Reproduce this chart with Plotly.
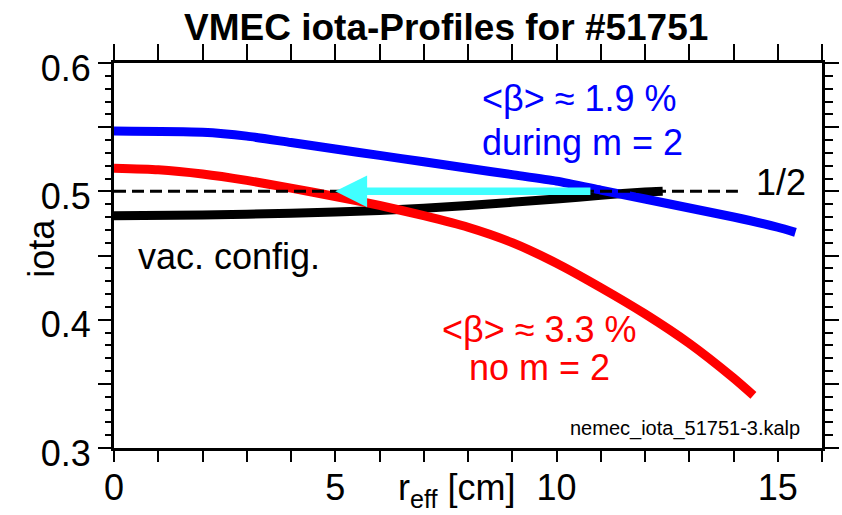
import plotly.graph_objects as go

# ---- data ----
r_vac = [0, 2, 4, 6, 8, 10, 11, 12, 12.4]
iota_vac = [0.481, 0.4815, 0.483, 0.485, 0.489, 0.494, 0.497, 0.4995, 0.500]

r_b19 = [0, 2, 3, 4, 5, 6, 7, 8, 9, 10, 11, 12, 13, 14, 15, 15.4]
iota_b19 = [0.547, 0.546, 0.543, 0.538, 0.533, 0.528, 0.523, 0.518, 0.513,
            0.508, 0.501, 0.494, 0.487, 0.480, 0.472, 0.468]

r_b33 = [0, 1, 2, 3, 4, 5, 6, 7, 8, 9, 10, 11, 12, 13, 14, 14.45]
iota_b33 = [0.518, 0.5168, 0.5135, 0.5085, 0.5025, 0.496, 0.489, 0.481, 0.472,
            0.460, 0.444, 0.425, 0.4045, 0.3815, 0.3545, 0.341]

r_half = [0, 14.1]
iota_half = [0.5, 0.5]

arrow_tail_r = 10.8
arrow_tip_r = 5.0
arrow_iota = 0.5

x_tick_vals = list(range(0, 17))
x_tick_text = [str(v) if v % 5 == 0 else "" for v in x_tick_vals]
y_tick_vals = [0.30, 0.35, 0.40, 0.45, 0.50, 0.55, 0.60]
y_tick_text = ["0.3", "", "0.4", "", "0.5", "", "0.6"]

FONT = "Liberation Sans, Arial, Helvetica, sans-serif"
BLUE = "#0000FF"
RED = "#FF0000"
CYAN = "#40FFFF"

fig = go.Figure()
fig.add_trace(go.Scatter(x=r_vac, y=iota_vac, mode="lines",
                         line=dict(color="black", width=9, shape="spline", smoothing=0.5),
                         showlegend=False))
fig.add_trace(go.Scatter(x=r_b19, y=iota_b19, mode="lines",
                         line=dict(color=BLUE, width=9, shape="spline", smoothing=0.6),
                         showlegend=False))
fig.add_trace(go.Scatter(x=r_b33, y=iota_b33, mode="lines",
                         line=dict(color=RED, width=9, shape="spline", smoothing=0.6),
                         showlegend=False))
fig.add_trace(go.Scatter(x=r_half, y=iota_half, mode="lines",
                         line=dict(color="black", width=3, dash="12px,6px"),
                         showlegend=False))
fig.add_trace(go.Scatter(x=[], y=[], xaxis="x2", yaxis="y2", showlegend=False))

ann = []
ann.append(dict(x=arrow_tip_r, y=arrow_iota, ax=arrow_tail_r, ay=arrow_iota,
                xref="x", yref="y", axref="x", ayref="y", text="",
                showarrow=True, arrowhead=2, arrowsize=0.85, arrowwidth=7.5,
                arrowcolor=CYAN, standoff=0, startstandoff=0))

def txt(x, y, s, color="black", size=36, xref="x", yref="y", **kw):
    d = dict(x=x, y=y, xref=xref, yref=yref, text=s, showarrow=False,
             font=dict(family=FONT, size=size, color=color),
             xanchor="center", yanchor="middle")
    d.update(kw)
    ann.append(d)

txt(10.52, 0.5725, "&lt;β&gt; ≈ 1.9 %", BLUE)
txt(10.59, 0.5383, "during m = 2", BLUE)
txt(9.62, 0.392, "&lt;β&gt; ≈ 3.3 %", RED)
txt(9.62, 0.3624, "no m = 2", RED)
txt(15.07, 0.5072, "1/2")
txt(2.59, 0.4496, "vac. config.")
txt(15.54, 0.315, "nemec_iota_51751-3.kalp", size=20, xanchor="right")
txt(0.4685, 1.0926, "<b>VMEC iota-Profiles for #51751</b>", size=37,
    xref="paper", yref="paper")
txt(0.4845, -0.110, "r<sub>eff</sub> [cm]", xref="paper", yref="paper")
txt(-0.102, 0.5195, "iota", xref="paper", yref="paper", textangle=-90)

axis_common = dict(showgrid=False, zeroline=False, showline=True,
                   linecolor="black", ticks="outside", tickcolor="black",
                   tickwidth=2, automargin=False)

fig.update_layout(
    width=842, height=515,
    margin=dict(l=114, r=20, t=63, b=67, autoexpand=False),
    paper_bgcolor="white", plot_bgcolor="white",
    font=dict(family=FONT, color="black"),
    xaxis=dict(range=[0, 16], tickmode="array", tickvals=x_tick_vals,
               ticktext=x_tick_text, ticklen=11, linewidth=3,
               tickfont=dict(size=36), ticklabelstandoff=-5, **axis_common),
    xaxis2=dict(range=[0, 16], overlaying="x", side="top", anchor="y2",
                tickmode="array", tickvals=x_tick_vals, ticklen=16,
                showticklabels=False, linewidth=3, **axis_common),
    yaxis=dict(range=[0.3, 0.6], tickmode="array", tickvals=y_tick_vals,
               ticktext=y_tick_text, ticklen=13, linewidth=3,
               tickfont=dict(size=36), ticklabelshift=5,
               minor=dict(tickmode="linear", tick0=0.3, dtick=0.01,
                          ticklen=6, tickwidth=2, ticks="outside",
                          tickcolor="black"),
               **axis_common),
    yaxis2=dict(range=[0.3, 0.6], overlaying="y", side="right", anchor="x2",
                tickmode="array", tickvals=y_tick_vals, ticklen=14,
                showticklabels=False, linewidth=3,
                minor=dict(tickmode="linear", tick0=0.3, dtick=0.01,
                           ticklen=8, tickwidth=2, ticks="outside",
                           tickcolor="black"),
                **axis_common),
    annotations=ann,
)

fig.write_html("out.html")
